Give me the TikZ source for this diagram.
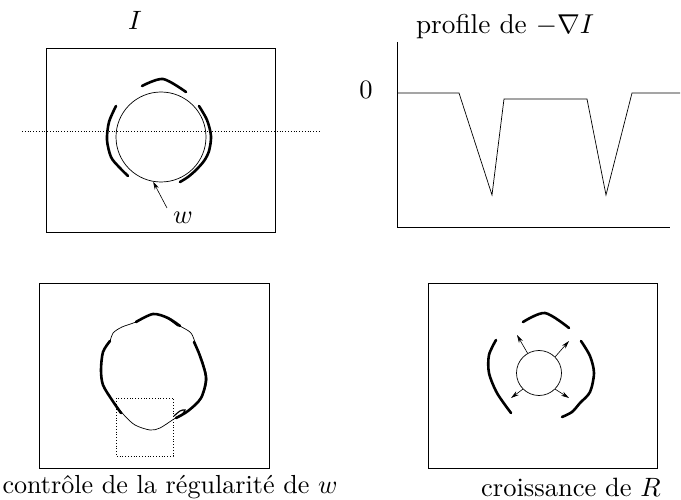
\documentclass[tikz,border=0pt]{standalone}
\usetikzlibrary{arrows.meta}
\begin{document}
\begin{tikzpicture}[x=1pt,y=-1pt,
  lbl/.style={scale=2.65,transform shape,inner sep=0pt},
  frame/.style={line width=1.3pt},
  thin/.style={line width=0.7pt},
  thk/.style={line width=2.6pt,line cap=round},
  arr/.style={line width=0.6pt,-{Stealth[length=8pt,width=4.5pt]}}]
\useasboundingbox (0,0) rectangle (681,500);
% ---------- top left
\node[lbl] (I) at (135,20) {$I$};
\node[draw,frame,minimum width=229pt,minimum height=184pt,anchor=north west,inner sep=0pt] (b1) at (46,48) {};
\draw[dotted,line width=0.8pt] (22,131) -- (320,131);
\node[draw,thin,circle,minimum size=90pt,inner sep=0pt] (c1) at (161,137) {};
\draw[thk] plot[smooth] coordinates {(142,86) (163,79) (186,92)};
\draw[thk] plot[smooth] coordinates {(116,106) (109,122) (107,140) (111,157) (119,167) (128,176)};
\draw[thk] plot[smooth] coordinates {(199,106) (207,120) (211,136) (209,151) (204,161) (196,170) (188,177) (180,182)};
\node[lbl] (w) at (183,218) {$w$};
\coordinate (wa) at (167,208);
\draw[arr] (wa) -- (c1.-100);
% ---------- top right
\node[lbl,anchor=base,scale=1.03] (prof) at (505,34) {profile de $-\nabla I$};
\node[lbl] (zero) at (366,90) {0};
\coordinate (ytop) at (397,42);
\coordinate (orig) at (397,227);
\coordinate (xend) at (670,227);
\draw[thin] (ytop) -- (orig) -- (xend);
\draw[thin] (397,93) -- (459,93) -- (492,195) -- (504,99) -- (587,99) -- (606,195) -- (632,93) -- (680,93);
% ---------- bottom left
\node[draw,frame,minimum width=230pt,minimum height=185pt,anchor=north west,inner sep=0pt] (b3) at (39,283) {};
\draw[dotted,line width=0.8pt] (116,398) rectangle (173,456);
\draw[thin] plot[smooth cycle] coordinates {(153,314) (168,318) (180,326) (191,333) (196,345) (203,362) (207,380) (201,399) (188,411) (174,419) (160,428) (150,430) (135,425) (124,415) (112,400) (103,385) (101,370) (103,352) (110,341) (113,333) (122,327) (136,322)};
\draw[thk] plot[smooth] coordinates {(136,322) (153,314) (168,318) (180,326)};
\draw[line width=1.2pt] plot[smooth] coordinates {(163,316) (170,320) (178,326)};
\draw[thk] plot[smooth] coordinates {(194,342) (200,356) (206,378) (201,398) (188,411) (176,418)};
\draw[line width=1.2pt] plot[smooth] coordinates {(174,416) (180,411) (185,410) (181,416)};
\draw[thk] plot[smooth] coordinates {(121,413) (112,400) (103,385) (101,370) (103,352) (110,341)};
\node[lbl,scale=0.985] (cap1) at (170,487) {contr\^ole de la r\'egularit\'e de $w$};
% ---------- bottom right
\node[draw,frame,minimum width=229pt,minimum height=185pt,anchor=north west,inner sep=0pt] (b4) at (428,283) {};
\node[draw,thin,circle,minimum size=45pt,inner sep=0pt] (c4) at (539,373) {};
\coordinate (t1) at (517,335);
\coordinate (t2) at (569,341);
\coordinate (t3) at (511,398);
\coordinate (t4) at (569,398);
\draw[arr] (c4.120) -- (t1);
\draw[arr] (c4.45) -- (t2);
\draw[arr] (c4.-135) -- (t3);
\draw[arr] (c4.-45) -- (t4);
\draw[thk] plot[smooth] coordinates {(523,322) (545,313) (569,328)};
\draw[thk] plot[smooth] coordinates {(496,340) (489,355) (489,373) (497,393) (511,413)};
\draw[thk] plot[smooth] coordinates {(581,341) (590,356) (594,373) (590,392) (580,403) (572,412) (562,417)};
\node[lbl] (cap2) at (571,487) {croissance de $R$};
\end{tikzpicture}
\end{document}
